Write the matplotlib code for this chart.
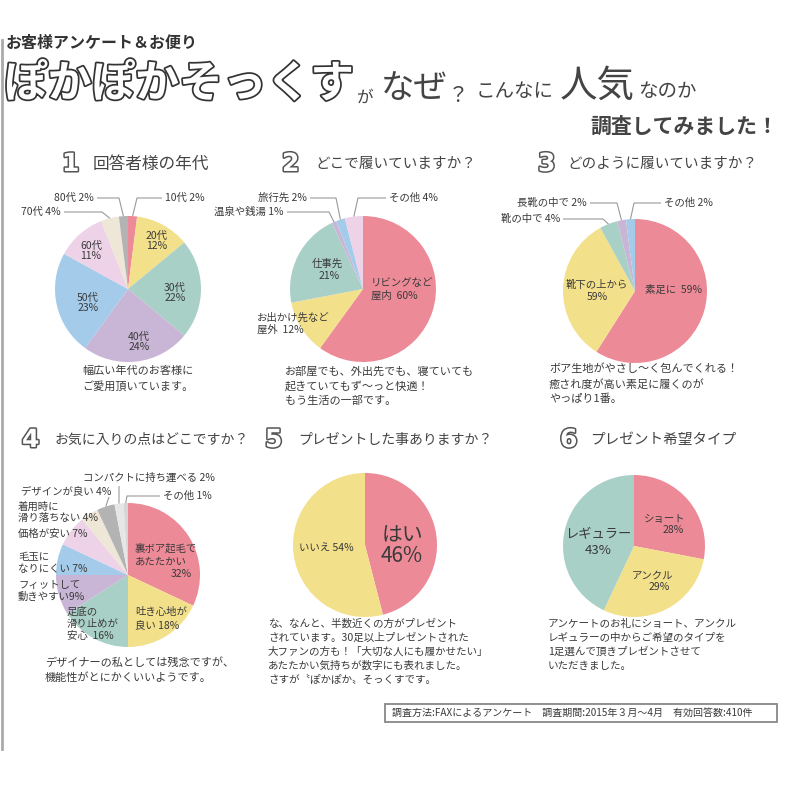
import matplotlib
matplotlib.use('Agg')
import matplotlib.pyplot as plt
import numpy as np
from matplotlib import patheffects as pe
from matplotlib.patches import Rectangle

plt.rcParams['font.family'] = ['Noto Sans CJK JP', 'DejaVu Sans']

# ---------------- data ----------------
age_names = ['10代', '20代', '30代', '40代', '50代', '60代', '70代', '80代']
age_pct = [2, 12, 22, 24, 23, 11, 4, 2]

place_names = ['リビングなど屋内', 'お出かけ先など屋外', '仕事先', '温泉や銭湯', '旅行先', 'その他']
place_pct = [60, 12, 21, 1, 2, 4]

way_names = ['素足に', '靴下の上から', '靴の中で', '長靴の中で', 'その他']
way_pct = [59, 33, 4, 2, 2]
way_printed_pct = [59, 59, 4, 2, 2]

fav_names = ['裏ボア起毛であたたかい', '吐き心地が良い', '足底の滑り止めが安心', 'フィットして動きやすい',
             '毛玉になりにくい', '価格が安い', '着用時に滑り落ちない', 'デザインが良い',
             'コンパクトに持ち運べる', 'その他']
fav_pct = [32, 18, 16, 9, 7, 7, 4, 4, 2, 1]

gift_names = ['はい', 'いいえ']
gift_pct = [46, 54]

type_names = ['ショート', 'アンクル', 'レギュラー']
type_pct = [28, 29, 43]

# ---------------- style ----------------
PINK = '#EC8A97'
YEL = '#F3E08B'
TEAL = '#A9D0C6'
LAV = '#C9B5D5'
BLUE = '#A4CCEA'
LILAC = '#EDD2E8'
BEIGE = '#EEE6D6'
GRAY = '#B3B3B3'
LGRAY = '#E6E6E6'
LGRAY2 = '#D6D6D6'
TXT = '#3a3a3a'
LINE = '#9a9a9a'

fig = plt.figure(figsize=(8, 8), dpi=100)
fig.patch.set_facecolor('white')


def pie_at(cx, cy, r, values, colors):
    ax = fig.add_axes([(cx - r) / 800, 1 - (cy + r) / 800, 2 * r / 800, 2 * r / 800])
    ax.pie(values, colors=colors, startangle=90, counterclock=False, radius=1,
           wedgeprops=dict(linewidth=0))
    ax.set_xlim(-1, 1)
    ax.set_ylim(-1, 1)
    ax.set_aspect('equal')
    ax.axis('off')
    return ax


ov = fig.add_axes([0, 0, 1, 1], zorder=10)
ov.set_xlim(0, 800)
ov.set_ylim(800, 0)
ov.axis('off')


def T(x, y, s, size=8, ha='left', va='center', color=TXT, **kw):
    ov.text(x, y, s, fontsize=size, ha=ha, va=va, color=color, **kw)


def lines(x, y0, step, rows, size=8, ha='left'):
    for i, s in enumerate(rows):
        T(x, y0 + i * step, s, size=size, ha=ha)


def slice_pt(cx, cy, r, values, i):
    tot = float(sum(values))
    mid = (sum(values[:i]) + values[i] / 2.0) / tot
    a = np.deg2rad(90 - 360 * mid)
    return cx + r * np.cos(a), cy - r * np.sin(a)


def leader(cx, cy, r, values, i, ex, ey, endx):
    px, py = slice_pt(cx, cy, r, values, i)
    ov.plot([px, ex, endx], [py, ey, ey], color=LINE, lw=0.8, solid_capstyle='butt')


# ---------------- header ----------------
ov.plot([2, 2], [40, 749], color='#aaaaaa', lw=2)
T(6, 43, 'お客様アンケート＆お便り', size=11.5, fontweight='bold', color='#333333')
T(4, 84, 'ぽかぽかそっくす', size=31.5, fontweight='bold', color='white',
  path_effects=[pe.withStroke(linewidth=2.5, foreground='#333333')])
T(357, 98, 'が', size=12, color='#444444')
T(381, 88, 'なぜ', size=24, color='#444444')
T(448, 96, '？', size=15, color='#444444')
T(476, 92, 'こんなに', size=14, color='#444444')
T(560, 86, '人気', size=27, color='#444444')
T(638, 92, 'なのか', size=14, color='#444444')
T(778, 126, '調査してみました！', size=15, ha='right', fontweight='bold', color='#444444')

# ---------------- section titles ----------------
num_fx = [pe.withStroke(linewidth=2.2, foreground='#555555')]
titles = [
    (62, 164, '1', 93, '回答者様の年代', 12),
    (282, 164, '2', 315, 'どこで履いていますか？', 10.5),
    (538, 164, '3', 567, 'どのように履いていますか？', 10.5),
    (22, 440, '4', 55, 'お気に入りの点はどこですか？', 10),
    (265, 440, '5', 298, 'プレゼントした事ありますか？', 10),
    (560, 440, '6', 590, 'プレゼント希望タイプ', 10.5),
]
for nx, ny, num, tx, title, fs in titles:
    T(nx, ny, num, size=18, fontweight='bold', color='white', family='DejaVu Sans',
      path_effects=num_fx)
    T(tx, ny, title, size=fs, color='#444444')

# ---------------- pie 1 ----------------
c1 = (128, 289, 73)
pie_at(*c1, age_pct, [PINK, YEL, TEAL, LAV, BLUE, LILAC, BEIGE, GRAY])
T(157, 241, f'{age_names[1]}\n{age_pct[1]}%', size=7.5, ha='center', linespacing=1.0)
T(175, 293, f'{age_names[2]}\n{age_pct[2]}%', size=7.5, ha='center', linespacing=1.0)
T(139, 342, f'{age_names[3]}\n{age_pct[3]}%', size=7.5, ha='center', linespacing=1.0)
T(88, 303, f'{age_names[4]}\n{age_pct[4]}%', size=7.5, ha='center', linespacing=1.0)
T(91, 251, f'{age_names[5]}\n{age_pct[5]}%', size=7.5, ha='center', linespacing=1.0)
leader(*c1, age_pct, 0, 137, 198, 162)
T(165, 198, f'{age_names[0]} {age_pct[0]}%', size=7.5)
leader(*c1, age_pct, 7, 119, 198, 97)
T(94, 198, f'{age_names[7]} {age_pct[7]}%', size=7.5, ha='right')
leader(*c1, age_pct, 6, 102, 212, 64)
T(61, 212, f'{age_names[6]} {age_pct[6]}%', size=7.5, ha='right')
lines(82, 371, 15, ['幅広い年代のお客様に', 'ご愛用頂いています。'])

# ---------------- pie 2 ----------------
c2 = (363, 289, 73)
pie_at(*c2, place_pct, [PINK, YEL, TEAL, LAV, BLUE, LILAC])
T(371, 283, 'リビングなど', size=7.5)
T(371, 296, f'屋内  {place_pct[0]}%', size=7.5)
T(327, 264, '仕事先', size=7.5, ha='center')
T(329, 276, f'{place_pct[2]}%', size=7.5, ha='center')
T(257, 318, 'お出かけ先など', size=7.5)
T(257, 330, f'屋外  {place_pct[1]}%', size=7.5)
leader(*c2, place_pct, 5, 358, 198, 386)
T(389, 198, f'{place_names[5]} {place_pct[5]}%', size=7.5)
leader(*c2, place_pct, 4, 336, 198, 310)
T(307, 198, f'{place_names[4]} {place_pct[4]}%', size=7.5, ha='right')
leader(*c2, place_pct, 3, 329, 212, 287)
T(284, 212, f'{place_names[3]} {place_pct[3]}%', size=7.5, ha='right')
lines(285, 371, 15, ['お部屋でも、外出先でも、寝ていても', '起きていてもず〜っと快適！', 'もう生活の一部です。'])

# ---------------- pie 3 ----------------
c3 = (635, 291, 72)
pie_at(*c3, way_pct, [PINK, YEL, TEAL, LAV, BLUE])
T(645, 290, f'{way_names[0]}  {way_printed_pct[0]}%', size=7.5)
T(597, 285, way_names[1], size=7.5, ha='center')
T(597, 297, f'{way_printed_pct[1]}%', size=7.5, ha='center')
leader(*c3, way_pct, 4, 634, 203, 661)
T(664, 203, f'{way_names[4]} {way_printed_pct[4]}%', size=7.5)
leader(*c3, way_pct, 3, 617, 203, 590)
T(587, 203, f'{way_names[3]} {way_printed_pct[3]}%', size=7.5, ha='right')
leader(*c3, way_pct, 2, 603, 219, 563)
T(560, 219, f'{way_names[2]} {way_printed_pct[2]}%', size=7.5, ha='right')
lines(549, 369, 15, ['ボア生地がやさし〜く包んでくれる！', '癒され度が高い素足に履くのが', 'やっぱり1番。'])

# ---------------- pie 4 ----------------
c4 = (128, 575, 72)
pie_at(*c4, fav_pct, [PINK, YEL, TEAL, LAV, BLUE, LILAC, BEIGE, GRAY, LGRAY, LGRAY2])
T(135, 548, '裏ボア起毛で', size=7.5)
T(135, 561, 'あたたかい', size=7.5)
T(192, 574, f'{fav_pct[0]}%', size=7.5, ha='right')
T(135, 612, '吐き心地が', size=7.5)
T(135, 625, f'良い {fav_pct[1]}%', size=7.5)
T(67, 612, '足底の', size=7.5)
T(67, 624, '滑り止めが', size=7.5)
T(67, 636, f'安心  {fav_pct[2]}%', size=7.5)
T(18, 585, 'フィットして', size=7.5)
T(18, 597, f'動きやすい{fav_pct[3]}%', size=7.5)
T(18, 557, '毛玉に', size=7.5)
T(18, 569, f'なりにくい {fav_pct[4]}%', size=7.5)
T(18, 534, f'{fav_names[5]} {fav_pct[5]}%', size=7.5)
T(18, 507, '着用時に', size=7.5)
T(18, 518, f'滑り落ちない {fav_pct[6]}%', size=7.5)
T(21, 492, f'{fav_names[7]} {fav_pct[7]}%', size=7.5)
T(83, 478, f'{fav_names[8]} {fav_pct[8]}%', size=7.5)
T(163, 496, f'{fav_names[9]} {fav_pct[9]}%', size=7.5)
leader(*c4, fav_pct, 9, 127, 496, 160)
leader(*c4, fav_pct, 8, 119, 486, 119)
leader(*c4, fav_pct, 7, 109, 497, 109)
lines(45, 663, 15, ['デザイナーの私としては残念ですが、', '機能性がとにかくいいようです。'])

# ---------------- pie 5 ----------------
c5 = (365, 545, 72)
pie_at(*c5, gift_pct, [PINK, YEL])
T(402, 535, gift_names[0], size=15, ha='center')
T(402, 556, f'{gift_pct[0]}%', size=15, ha='center')
T(326, 548, f'{gift_names[1]} {gift_pct[1]}%', size=7.5, ha='center')
lines(268, 624, 14, ['な、なんと、半数近くの方がプレゼント',
                     'されています。30足以上プレゼントされた',
                     '大ファンの方も！「大切な人にも履かせたい」',
                     'あたたかい気持ちが数字にも表れました。',
                     'さすが〝ぽかぽか〟そっくすです。'], size=7.6)

# ---------------- pie 6 ----------------
c6 = (634, 546, 71)
pie_at(*c6, type_pct, [PINK, YEL, TEAL])
T(665, 519, type_names[0], size=7.5, ha='center')
T(673, 530, f'{type_pct[0]}%', size=7.5, ha='center')
T(652, 576, type_names[1], size=7.5, ha='center')
T(659, 587, f'{type_pct[1]}%', size=7.5, ha='center')
T(598, 535, type_names[2], size=9.5, ha='center')
T(598, 551, f'{type_pct[2]}%', size=9.5, ha='center')
lines(548, 624, 14, ['アンケートのお礼にショート、アンクル',
                     'レギュラーの中からご希望のタイプを',
                     '1足選んで頂きプレゼントさせて',
                     'いただきました。'], size=7.6)

# ---------------- footer ----------------
ov.add_patch(Rectangle((385, 704), 392, 18, fill=False, edgecolor='#888888', lw=1.3))
T(392, 713, '調査方法:FAXによるアンケート　調査期間:2015年３月〜4月　有効回答数:410件', size=7.2)

fig.savefig('out.png', dpi=100, facecolor='white')
